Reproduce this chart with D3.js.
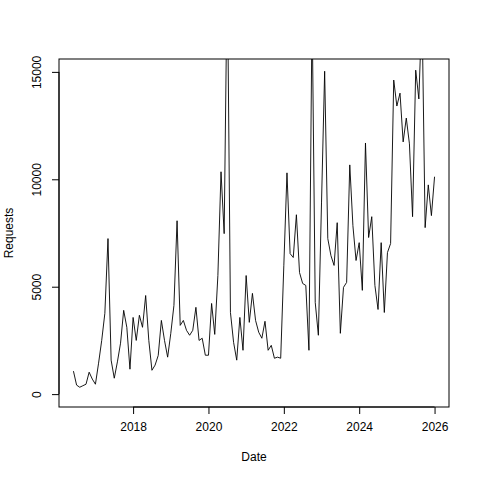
<!DOCTYPE html>
<html>
<head>
<meta charset="utf-8">
<script src="https://cdn.jsdelivr.net/npm/d3@7"></script>
<style>
  body { margin: 0; background: #fff; }
  text { font-family: "Liberation Sans", Arial, sans-serif; font-size: 12px; fill: #000; }
</style>
</head>
<body>
<div class="container"></div>
<script>
// monthly counts, starting June 2016
const startYear = 2016, startMonth = 6;
const requests = [
  1070, 420, 320, 390, 460, 1020, 700,
  460, 1440, 2500, 3760, 7240, 1580, 740, 1500, 2370, 3900, 3110, 1160, 3570,
  2500, 3670, 3110, 4590, 2500, 1110, 1350, 1800, 3430, 2500, 1720, 2830,
  4130, 8070, 3200, 3430, 2970, 2740, 2970, 4040, 2500, 2600, 1810, 1810,
  4220, 2780, 5520, 10350, 7470, 20000, 3800, 2410, 1580, 3570, 2040, 5520,
  3340, 4690, 3430, 2880, 2600, 3390, 2040, 2270, 1670, 1720, 1670, 6000,
  10300, 6540, 6360, 8350, 5660, 5150, 5060, 2040, 18000, 4270, 2740, 8900,
  15030, 7240, 6450, 5990, 7980, 2830, 4970, 5200, 10670, 7840, 6220, 7050,
  4830, 11690, 7290, 8260, 5060, 3940, 7050, 3800, 6590, 7010, 14620, 13410,
  14010, 11740, 12850, 11650, 8260, 15080, 13740, 18000, 7750, 9740, 8310, 10120
];
const xTicks = [2018, 2020, 2022, 2024, 2026];
const yTicks = [0, 5000, 10000, 15000];

const dates = requests.map((d, i) => startYear + (startMonth - 1 + i) / 12);
const data = dates.map((t, i) => ({ t: t, v: requests[i] }));

const w = 480, h = 480;
const box = { left: 59, right: 449, top: 59, bottom: 407 };

const tMin = d3.min(dates), tMax = d3.max(dates);
const tPad = (tMax - tMin) * 0.04;
const xScale = d3.scaleLinear()
  .domain([tMin - tPad, tMax + tPad])
  .range([box.left, box.right]);
const yScale = d3.scaleLinear()
  .domain([-600, 15600])
  .range([box.bottom, box.top]);

const svg = d3.select(".container").append("svg")
  .attr("width", w).attr("height", h);

svg.append("clipPath").attr("id", "clip")
  .append("rect")
  .attr("x", box.left).attr("y", box.top)
  .attr("width", box.right - box.left).attr("height", box.bottom - box.top);

const line = d3.line().x(d => xScale(d.t)).y(d => yScale(d.v));
svg.append("path")
  .datum(data)
  .attr("clip-path", "url(#clip)")
  .attr("fill", "none").attr("stroke", "#000").attr("stroke-width", 0.9)
  .attr("d", line);

svg.append("rect")
  .attr("x", box.left).attr("y", box.top)
  .attr("width", box.right - box.left).attr("height", box.bottom - box.top)
  .attr("fill", "none").attr("stroke", "#000");

const xAxis = d3.axisBottom(xScale).tickValues(xTicks).tickFormat(d3.format("d")).tickSize(7).tickPadding(8);
const gx = svg.append("g")
  .attr("transform", "translate(0," + box.bottom + ")") // x-axis
  .call(xAxis);
gx.select(".domain").attr("d", "M" + xScale(xTicks[0]) + ",0H" + xScale(xTicks[xTicks.length - 1]));

const yAxis = d3.axisLeft(yScale).tickValues(yTicks).tickFormat(d3.format("d")).tickSize(7).tickPadding(8);
const gy = svg.append("g")
  .attr("transform", "translate(" + box.left + ",0)") // y-axis
  .call(yAxis);
gy.select(".domain").attr("d", "M0," + yScale(yTicks[0]) + "V" + yScale(yTicks[yTicks.length - 1]));
gy.selectAll(".tick text")
  .attr("text-anchor", "middle")
  .attr("transform", "rotate(-90)")
  .attr("x", d => -0)
  .attr("y", -22)
  .attr("dy", 0)
  .each(function () {
    const tick = d3.select(this.parentNode);
    d3.select(this).attr("transform", "translate(-22,0) rotate(-90)").attr("x", 0).attr("y", 0).attr("dy", "0.35em");
  });
gx.selectAll("text, line, path").attr("font-size", null);
svg.selectAll(".tick text").style("font-size", "12px").style("font-family", "'Liberation Sans', Arial, sans-serif");
svg.selectAll(".domain, .tick line").attr("stroke", "#000");

svg.append("text").attr("x", (box.left + box.right) / 2).attr("y", 461)
  .attr("text-anchor", "middle").text("Date");
svg.append("text").attr("transform", "translate(13," + (box.top + box.bottom) / 2 + ") rotate(-90)")
  .attr("text-anchor", "middle").text("Requests");
</script>
</body>
</html>
